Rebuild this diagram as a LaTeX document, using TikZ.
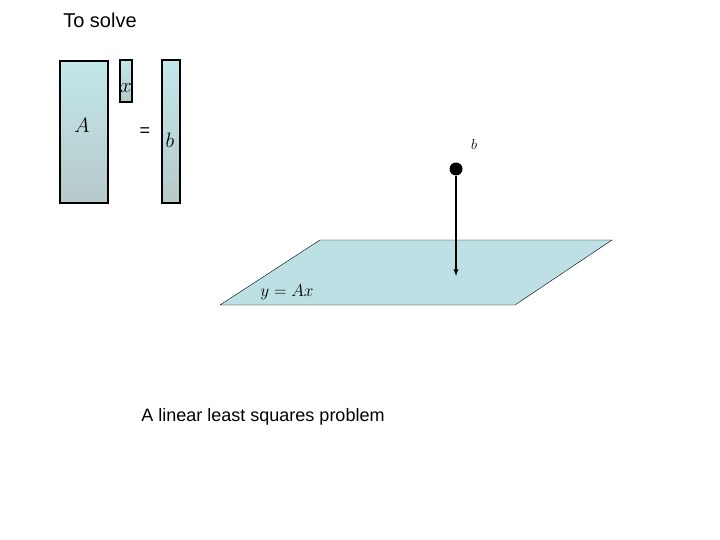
\documentclass[tikz,border=0pt]{standalone}
\usepackage{fontspec}
\setsansfont{Liberation Sans}
\definecolor{mtop}{HTML}{C2E8EA}
\definecolor{mbot}{HTML}{B6C8CA}
\definecolor{plane}{HTML}{BCE0E4}
\tikzset{matbox/.style={draw, line width=1.2pt, top color=mtop, bottom color=mbot}}
\begin{document}
\begin{tikzpicture}[x=1pt, y=-1pt]
\useasboundingbox (0,0) rectangle (720,540);
\draw[matbox] (60,61) rectangle (108,203);
\draw[matbox] (120,60) rectangle (132,102);
\draw[matbox] (162,60) rectangle (180,203);
\node (lA) at (82,125) {\fontsize{20}{22}\selectfont $A$};
\node (lx) at (126,88) {\fontsize{20}{22}\selectfont $x$};
\node (eq) at (145,132) {\sffamily\fontsize{18}{20}\selectfont =};
\node (lb) at (170,140) {\fontsize{20}{22}\selectfont $b$};
\draw[fill=plane] (220,305) -- (320,240) -- (612,240) -- (515,305) -- cycle;
\node (ylab) at (287,292) {\fontsize{18}{20}\selectfont $y = Ax$};
\node[circle, fill, inner sep=0pt, minimum size=13pt] (pt) at (456,169) {};
\coordinate (foot) at (456,276);
\draw[line width=1.3pt, -latex] (pt) -- (foot);
\node (blab) at (474,145) {\fontsize{14}{16}\selectfont $b$};
\node (title) at (100,20) {\sffamily\fontsize{20}{22}\selectfont To solve};
\node (cap) at (263,417) {\sffamily\fontsize{18}{20}\selectfont A linear least squares problem};
\end{tikzpicture}
\end{document}
